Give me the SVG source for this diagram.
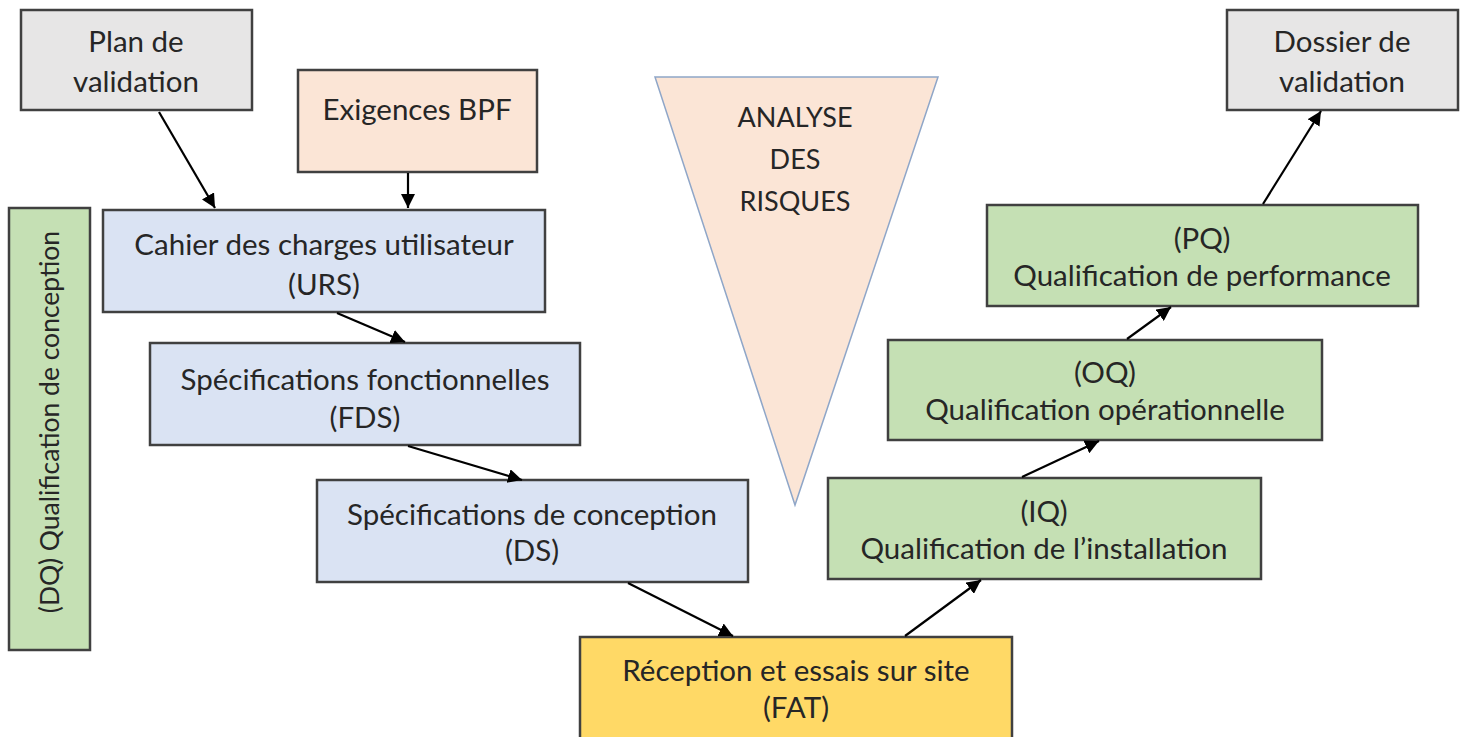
<svg xmlns="http://www.w3.org/2000/svg" width="1464" height="737" viewBox="0 0 1464 737">
<defs>
<style>
.box{stroke:#404040;stroke-width:2.5}
.gray{fill:#e7e6e6}
.peach{fill:#fbe5d6}
.blue{fill:#dae3f3}
.green{fill:#c5e0b4}
.gold{fill:#ffd966}
text{font-family:Lato,"Open Sans","Liberation Sans",sans-serif;font-size:29.5px;fill:#262626;text-anchor:middle}
.tri{font-size:27px}
.conn{stroke:#000;stroke-width:2.2;fill:none;marker-end:url(#arr)}
</style>
<marker id="arr" markerUnits="userSpaceOnUse" markerWidth="16" markerHeight="14" refX="14" refY="7" orient="auto">
<path d="M0,0 L14,7 L0,14 Z" fill="#000"/>
</marker>
</defs>
<rect width="1464" height="737" fill="#fff"/>

<g id="plan">
<rect class="box gray" x="21" y="10" width="231" height="100"/>
<text x="136" y="52">Plan de</text>
<text x="136" y="92">validation</text>
</g>

<g id="exigences">
<rect class="box peach" x="298" y="70" width="239" height="102"/>
<text x="417" y="120">Exigences BPF</text>
</g>

<g id="dq">
<rect class="box green" x="9" y="208" width="81" height="442"/>
<text transform="translate(59,422) rotate(-90)" style="font-size:26.5px">(DQ) Qualification de conception</text>
</g>

<g id="urs">
<rect class="box blue" x="103" y="210" width="442" height="102"/>
<text x="324" y="255">Cahier des charges utilisateur</text>
<text x="324" y="295">(URS)</text>
</g>

<g id="fds">
<rect class="box blue" x="150" y="343" width="430" height="102"/>
<text x="365" y="390">Spécifications fonctionnelles</text>
<text x="365" y="428">(FDS)</text>
</g>

<g id="ds">
<rect class="box blue" x="317" y="480" width="431" height="102"/>
<text x="532" y="525">Spécifications de conception</text>
<text x="532" y="561">(DS)</text>
</g>

<g id="fat">
<rect class="box gold" x="580" y="637" width="432" height="104"/>
<text x="796" y="681">Réception et essais sur site</text>
<text x="796" y="718">(FAT)</text>
</g>

<g id="risques">
<polygon points="655,77 938,77 795,505" fill="#fbe5d6" stroke="#8fa6c8" stroke-width="1.5"/>
<text class="tri" x="795" y="127">ANALYSE</text>
<text class="tri" x="795" y="169">DES</text>
<text class="tri" x="795" y="211">RISQUES</text>
</g>

<g id="iq">
<rect class="box green" x="828" y="478" width="433" height="101"/>
<text x="1044" y="522">(IQ)</text>
<text x="1044" y="559">Qualification de l’installation</text>
</g>

<g id="oq">
<rect class="box green" x="888" y="340" width="434" height="100"/>
<text x="1105" y="383">(OQ)</text>
<text x="1105" y="420">Qualification opérationnelle</text>
</g>

<g id="pq">
<rect class="box green" x="987" y="205" width="431" height="101"/>
<text x="1202" y="249">(PQ)</text>
<text x="1202" y="286">Qualification de performance</text>
</g>

<g id="dossier">
<rect class="box gray" x="1227" y="10" width="231" height="100"/>
<text x="1342" y="52">Dossier de</text>
<text x="1342" y="92">validation</text>
</g>

<g id="connectors">
<line class="conn" x1="159" y1="112" x2="215" y2="208"/>
<line class="conn" x1="408" y1="173" x2="408" y2="208"/>
<line class="conn" x1="337" y1="313" x2="405" y2="342"/>
<line class="conn" x1="408" y1="446" x2="522" y2="480"/>
<line class="conn" x1="628" y1="583" x2="733" y2="636"/>
<line class="conn" x1="905" y1="636" x2="981" y2="580"/>
<line class="conn" x1="1022" y1="477" x2="1099" y2="441"/>
<line class="conn" x1="1127" y1="339" x2="1171" y2="307"/>
<line class="conn" x1="1263" y1="204" x2="1321" y2="111"/>
</g>
</svg>
